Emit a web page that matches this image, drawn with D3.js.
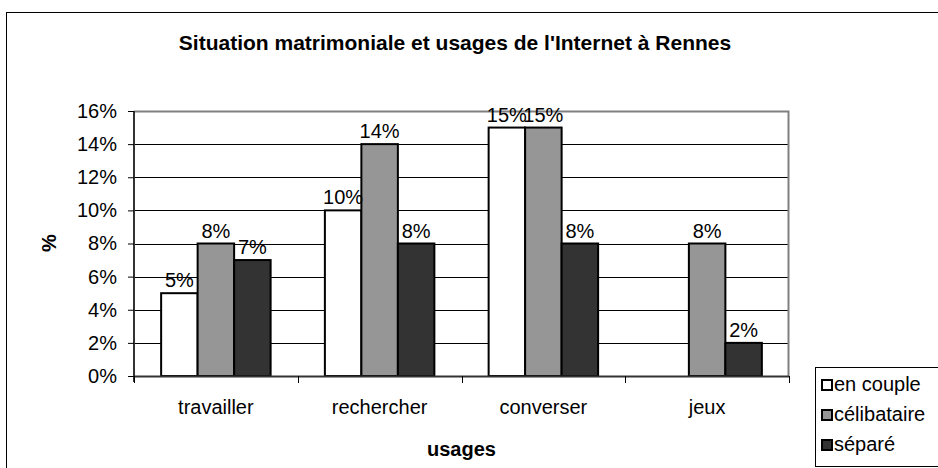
<!DOCTYPE html>
<html>
<head>
<meta charset="utf-8">
<script src="https://cdn.jsdelivr.net/npm/d3@7"></script>
<style>
  html, body { margin: 0; padding: 0; background: #fff; }
  svg { display: block; font-family: Arial, "Liberation Sans", sans-serif; }
</style>
</head>
<body>
<svg id="chart" width="938" height="468"></svg>
<script>
const categories = ["travailler", "rechercher", "converser", "jeux"];
const seriesNames = ["en couple", "célibataire", "séparé"];
const enCouple = [5, 10, 15, 0];
const celibataire = [8, 14, 15, 8];
const separe = [7, 8, 8, 2];
const yTicks = [0, 2, 4, 6, 8, 10, 12, 14, 16];
const seriesValues = [enCouple, celibataire, separe];
const colors = ["#ffffff", "#969696", "#333333"];

const svg = d3.select("#chart");
const plot = { left: 134, right: 789, top: 111, bottom: 376 };

// outer frame
svg.append("rect").attr("x", 6.5).attr("y", 12.5).attr("width", 1000).attr("height", 1000)
  .attr("fill", "#fff").attr("stroke", "#000").attr("stroke-width", 1);

const x0 = d3.scaleBand().domain(categories).range([plot.left, plot.right]).paddingInner(0).paddingOuter(0);
const x1 = d3.scaleBand().domain(seriesNames).range([0, x0.bandwidth()]).paddingInner(0).paddingOuter(0.7435);
const y = d3.scaleLinear().domain([0, 16]).range([plot.bottom, plot.top]);

// gridlines
svg.append("g").selectAll("line").data(yTicks.filter(t => t > 0 && t < 16)).join("line")
  .attr("x1", plot.left).attr("x2", plot.right)
  .attr("y1", d => Math.round(y(d)) + 0.5).attr("y2", d => Math.round(y(d)) + 0.5)
  .attr("stroke", "#000").attr("stroke-width", 1);

// plot area top & right border (gray)
svg.append("path")
  .attr("d", `M${plot.left},${plot.top + 0.5}H${plot.right - 0.5}V${plot.bottom}`)
  .attr("fill", "none").attr("stroke", "#808080").attr("stroke-width", 2);

// bars
const groups = svg.append("g").selectAll("g").data(categories).join("g")
  .attr("transform", d => `translate(${x0(d)},0)`);
groups.selectAll("rect").data((c, i) => seriesNames.map((s, j) => ({ s, j, v: seriesValues[j][i] })))
  .join("rect")
  .filter(d => d.v > 0)
  .attr("x", d => x1(d.s)).attr("width", x1.bandwidth())
  .attr("y", d => y(d.v)).attr("height", d => y(0) - y(d.v))
  .attr("fill", d => colors[d.j]).attr("stroke", "#000").attr("stroke-width", 2);

// data labels
groups.selectAll("text").data((c, i) => seriesNames.map((s, j) => ({ s, j, v: seriesValues[j][i] })).filter(d => d.v > 0))
  .join("text")
  .attr("x", d => x1(d.s) + x1.bandwidth() / 2)
  .attr("y", d => y(d.v) - 6)
  .attr("text-anchor", "middle").attr("font-size", 20).attr("fill", "#000")
  .text(d => d.v + "%");

// y axis
const yAxis = d3.axisLeft(y).tickValues(yTicks).tickSize(6).tickPadding(11).tickFormat(d => d + "%");
const ya = svg.append("g").attr("transform", `translate(${plot.left},0)`).call(yAxis);
ya.select(".domain").attr("stroke", "#333").attr("stroke-width", 2).attr("d", `M0,${plot.top}V${plot.bottom + 6}`);
ya.selectAll(".tick line").attr("stroke", "#000");
ya.selectAll(".tick text").attr("font-size", 20).attr("font-family", "Arial, 'Liberation Sans', sans-serif").attr("fill", "#000");

// x axis
const xa = svg.append("g").attr("transform", `translate(0,${plot.bottom})`);
xa.append("line").attr("x1", plot.left).attr("x2", plot.right).attr("y1", 0.5).attr("y2", 0.5)
  .attr("stroke", "#333").attr("stroke-width", 2);
const boundaries = categories.map(c => x0(c)).concat([x0(categories[categories.length - 1]) + x0.bandwidth()]);
xa.selectAll("line.tk").data(boundaries).join("line").attr("class", "tk")
  .attr("x1", d => Math.round(d) + 0.5).attr("x2", d => Math.round(d) + 0.5).attr("y1", 0).attr("y2", 7)
  .attr("stroke", "#000");
xa.selectAll("text").data(categories).join("text")
  .attr("x", d => x0(d) + x0.bandwidth() / 2).attr("y", 38)
  .attr("text-anchor", "middle").attr("font-size", 20).attr("fill", "#000")
  .text(d => d);

// titles
svg.append("text").attr("x", 455).attr("y", 50).attr("text-anchor", "middle")
  .attr("font-size", 21).attr("font-weight", "bold").text("Situation matrimoniale et usages de l'Internet à Rennes");
svg.append("text").attr("x", (plot.left + plot.right) / 2).attr("y", 456).attr("text-anchor", "middle")
  .attr("font-size", 20).attr("font-weight", "bold").text("usages");
svg.append("text").attr("transform", "translate(56,243) rotate(-90)").attr("text-anchor", "middle")
  .attr("font-size", 20).attr("font-weight", "bold").text("%");

// legend
const lg = svg.append("g");
lg.append("rect").attr("x", 815.5).attr("y", 367.5).attr("width", 200).attr("height", 99)
  .attr("fill", "#fff").attr("stroke", "#000").attr("stroke-width", 1);
const rows = [385, 415, 445];
const items = lg.selectAll("g.it").data(seriesNames).join("g").attr("class", "it")
  .attr("transform", (d, i) => `translate(822,${rows[i]})`);
items.append("rect").attr("x", 0).attr("y", -5).attr("width", 10).attr("height", 10)
  .attr("fill", (d, i) => colors[i]).attr("stroke", "#000").attr("stroke-width", 2);
items.append("text").attr("x", 12).attr("y", 6).attr("font-size", 20).attr("fill", "#000").text(d => d);
</script>
</body>
</html>
